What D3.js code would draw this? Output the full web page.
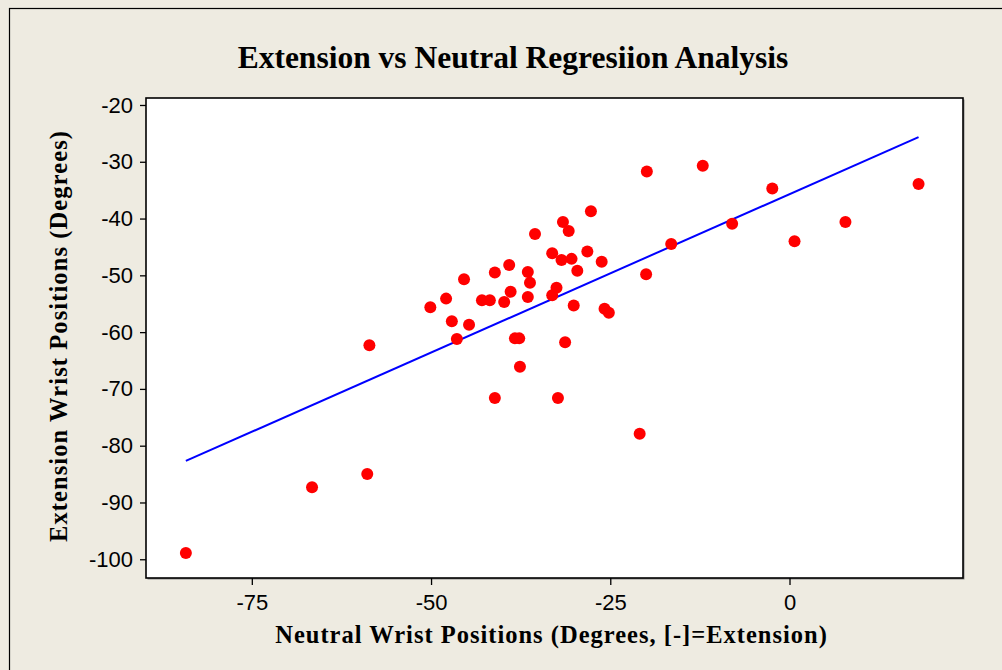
<!DOCTYPE html>
<html>
<head>
<meta charset="utf-8">
<script src="https://cdn.jsdelivr.net/npm/d3@7"></script>
<style>
  html, body { margin: 0; padding: 0; background: #EEEBE1; }
  svg { display: block; }
</style>
</head>
<body>
<svg id="chart" width="1002" height="670"></svg>
<script>
// Neutral wrist position (x) and extension wrist position (y), degrees
const neutral = [
  -84.2, -66.6, -58.9, -58.6,
  -27.7, -31.6, -30.8, -35.5, -33.1, -31.8, -30.4, -28.2, -26.2, -29.6, -16.5, -20.0,
  -45.4, -41.1, -39.1, -36.5, -36.2, -38.9, -32.5, -33.1, -36.5, -47.9, -42.9, -41.8,
  -39.8, -50.1, -30.1, -25.8, -25.2, -47.1, -44.7, -46.4, -38.3, -37.7, -31.3, -37.6,
  -41.1, -32.3,
  -19.9, -12.1, -2.4, 18.0, -8.0, 7.8, 0.7, -20.9
];
const extension = [
  -98.9, -87.3, -85.0, -62.3,
  -38.7, -40.6, -42.2, -42.7, -46.1, -47.3, -47.1, -45.8, -47.6, -49.2, -44.5, -49.8,
  -50.7, -49.5, -48.2, -49.4, -51.3, -52.9, -52.2, -53.5, -53.8, -54.1, -54.4, -54.4,
  -54.7, -55.6, -55.3, -55.9, -56.6, -58.1, -58.7, -61.2, -61.1, -61.1, -61.8, -66.1,
  -71.6, -71.6,
  -31.7, -30.7, -34.7, -33.9, -40.9, -40.6, -44.0, -77.9
];

// Fitted regression line: extension = intercept + slope * neutral
const fitIntercept = -35.7;
const fitSlope = 0.558;

const xTicks = [-75, -50, -25, 0];
const yTicks = [-20, -30, -40, -50, -60, -70, -80, -90, -100];

const titleText = "Extension vs Neutral Regresiion Analysis";
const xLabel = "Neutral Wrist Positions (Degrees, [-]=Extension)";
const yLabel = "Extension Wrist Positions (Degrees)";

const svg = d3.select("#chart");
const plot = { left: 146, top: 98, right: 963, bottom: 578 };

const x = d3.scaleLinear().domain([-89.76, 24.2]).range([plot.left, plot.right]);
const y = d3.scaleLinear().domain([-103.3, -18.77]).range([plot.bottom, plot.top]);

// Outer frame
svg.append("rect")
  .attr("x", 9.5).attr("y", 8.5)
  .attr("width", 1100).attr("height", 800)
  .attr("fill", "#EEEBE1").attr("stroke", "#000").attr("stroke-width", 1.2);

// Plot area with a light drop shadow
svg.append("rect")
  .attr("x", plot.left + 1.5).attr("y", plot.top + 1.5)
  .attr("width", plot.right - plot.left).attr("height", plot.bottom - plot.top)
  .attr("fill", "#8a8a8a");
svg.append("rect")
  .attr("x", plot.left).attr("y", plot.top)
  .attr("width", plot.right - plot.left).attr("height", plot.bottom - plot.top)
  .attr("fill", "#fff").attr("stroke", "#000").attr("stroke-width", 1.6);

// Axes
const tickFont = "'Liberation Sans', Arial, sans-serif";
const xAxis = svg.append("g")
  .attr("transform", `translate(0,${plot.bottom})`)
  .call(d3.axisBottom(x).tickValues(xTicks).tickSize(7).tickPadding(9).tickFormat(d3.format("d")));
const yAxis = svg.append("g")
  .attr("transform", `translate(${plot.left},0)`)
  .call(d3.axisLeft(y).tickValues(yTicks).tickSize(6).tickPadding(7).tickFormat(d3.format("d")));

[xAxis, yAxis].forEach(g => {
  g.select(".domain").remove();
  g.selectAll(".tick line").attr("stroke", "#000").attr("stroke-width", 1.3);
  g.selectAll(".tick text")
    .attr("fill", "#000")
    .style("font-family", tickFont)
    .style("font-size", "22px");
});
// Plain hyphen-minus in the tick labels
svg.selectAll(".tick text").text(d => String(d));

// Regression line across the data range
const [xmin, xmax] = d3.extent(neutral);
svg.append("line")
  .attr("x1", x(xmin)).attr("y1", y(fitIntercept + fitSlope * xmin))
  .attr("x2", x(xmax)).attr("y2", y(fitIntercept + fitSlope * xmax))
  .attr("stroke", "#0000FF").attr("stroke-width", 2);

// Observations
svg.append("g").selectAll("circle")
  .data(neutral.map((v, i) => [v, extension[i]]))
  .join("circle")
  .attr("cx", d => x(d[0]))
  .attr("cy", d => y(d[1]))
  .attr("r", 6)
  .attr("fill", "#FF0000");

// Titles
const serif = "'Liberation Serif', 'Times New Roman', serif";
svg.append("text")
  .attr("x", 513).attr("y", 68)
  .attr("text-anchor", "middle")
  .style("font-family", serif).style("font-weight", "bold").style("font-size", "31.5px")
  .attr("fill", "#000")
  .text(titleText);

svg.append("text")
  .attr("x", 551.5).attr("y", 643)
  .attr("text-anchor", "middle")
  .style("font-family", serif).style("font-weight", "bold").style("font-size", "24.5px")
  .style("letter-spacing", "1px")
  .attr("fill", "#000")
  .text(xLabel);

svg.append("text")
  .attr("transform", "translate(67,336) rotate(-90)")
  .attr("text-anchor", "middle")
  .style("font-family", serif).style("font-weight", "bold").style("font-size", "24.5px")
  .style("letter-spacing", "1.1px")
  .attr("fill", "#000")
  .text(yLabel);
</script>
</body>
</html>
